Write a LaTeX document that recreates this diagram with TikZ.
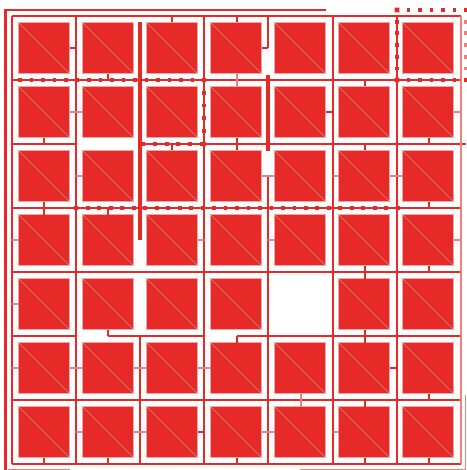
\documentclass[tikz,border=0pt]{standalone}
\definecolor{rd}{RGB}{229,42,39}
\definecolor{pk}{RGB}{240,128,126}
\definecolor{sqb}{RGB}{243,165,165}
\definecolor{dg}{RGB}{243,130,122}
\begin{document}
\begin{tikzpicture}[x=1pt,y=-1pt,
 wall/.style={draw=rd,line width=1.2pt},
 lite/.style={draw=pk,line width=1.1pt},
 boldwall/.style={draw=rd,line width=3.2pt},
 rimwall/.style={draw=rd,line width=2.6pt},
 sq/.style={rectangle,minimum size=51pt,inner sep=0pt,fill=rd,draw=sqb,line width=0.8pt,
   path picture={\draw[dg,line width=0.5pt] (path picture bounding box.north west) -- (path picture bounding box.south east);}}]
\useasboundingbox (0,0) rectangle (466,470);
% outer rim
\draw[rimwall] (4.5,10) -- (326,10);
\draw[rimwall] (5.5,9) -- (5.5,470);
% faint edges
\draw[lite,line width=0.8pt] (8,469) -- (70,469) (300,469) -- (466,469) (465,395) -- (465,470);
% walls horizontal
\draw[wall] (12,16) -- (461,16) (12,80) -- (461,80)
  (12,144) -- (76,144) (140,144) -- (466,144)
  (12,208) -- (461,208) (12,272) -- (461,272)
  (12,336) -- (76,336) (108,336) -- (204,336) (237,336) -- (461,336)
  (12,400) -- (461,400) (12,464) -- (461,464);
% walls vertical
\draw[wall] (12,16) -- (12,464) (76,16) -- (76,464) (140,336) -- (140,464)
  (204,16) -- (204,464) (268,16) -- (268,48) (268,176) -- (268,464)
  (333,16) -- (333,464) (397,16) -- (397,464);
\draw[lite] (461,16) -- (461,464);
% bold lines
\draw[boldwall] (140,22) -- (140,240) (268,75) -- (268,151);
\draw[rimwall] (76,272) rectangle (204,400);
% squares
\foreach \c in {0,...,6}{\foreach \r in {0,...,6}{%
  \pgfmathtruncatemacro\skipq{(\c==4)&&(\r==4)}%
  \ifnum\skipq=0 \node[sq] (s-\c-\r) at ({44+64*\c},{48+64*\r}) {};\fi}}
% dark stubs
\draw[wall] (70,48) -- (76,48) (108,74) -- (108,80) (172,16) -- (172,22) (237,16) -- (237,22)
  (262,48) -- (268,48) (44,138) -- (44,144) (326,112) -- (333,112) (365,80) -- (365,86)
  (429,138) -- (429,144) (237,138) -- (237,144) (172,144) -- (172,150) (237,144) -- (237,150)
  (365,144) -- (365,150) (429,202) -- (429,208) (44,202) -- (44,215) (108,208) -- (108,215)
  (365,266) -- (365,279) (429,266) -- (429,272) (108,330) -- (108,336) (237,336) -- (237,343)
  (390,368) -- (397,368) (429,394) -- (429,400) (365,400) -- (365,407) (198,432) -- (204,432)
  (44,458) -- (44,464) (108,458) -- (108,464) (237,458) -- (237,464) (365,458) -- (365,464)
  (429,458) -- (429,464) (134,368) -- (140,368);
\draw[boldwall,line width=2.6pt] (365,330) -- (365,343);
% light stubs
\draw[lite] (237,74) -- (237,86) (70,112) -- (83,112) (454,112) -- (461,112) (76,176) -- (83,176)
  (262,176) -- (275,176) (333,176) -- (339,176) (390,176) -- (403,176) (12,240) -- (19,240)
  (198,240) -- (204,240) (268,240) -- (275,240) (454,240) -- (461,240) (12,304) -- (19,304)
  (12,368) -- (19,368) (70,368) -- (83,368) (134,368) -- (147,368) (198,368) -- (211,368)
  (301,394) -- (301,407) (76,432) -- (83,432) (134,432) -- (147,432) (262,432) -- (275,432)
  (333,432) -- (339,432);
% dotted runs
\foreach \k in {0,...,16} \fill[rd] ({20+11.5*\k-1.9},78.1) rectangle ++(3.8,3.8);
\foreach \k in {0,...,5} \fill[rd] (202.1,{80+12.8*\k-1.9}) rectangle ++(3.8,3.8);
\foreach \k in {0,...,5} \fill[rd] ({143.3+11.67*\k-1.9},142.1) rectangle ++(3.8,3.8);
\foreach \k in {0,...,28} \fill[rd] ({76.3+11.48*\k-1.9},206.1) rectangle ++(3.8,3.8);
\foreach \k in {0,...,6} \fill[rd] ({397+11.5*\k-1.9},8.1) rectangle ++(3.8,3.8);
\foreach \k in {0,...,6} \fill[rd] (395.1,{10+11.7*\k-1.9}) rectangle ++(3.8,3.8);
\foreach \k in {0,...,6} \fill[rd] ({397+11.5*\k-1.9},78.1) rectangle ++(3.8,3.8);
\foreach \k in {1,...,5} \fill[pk] (464.1,{10+11.7*\k-1.9}) rectangle ++(3.8,3.8);
\fill[rd] (394.6,7.6) rectangle ++(4.8,4.8) (394.6,77.6) rectangle ++(4.8,4.8);
\end{tikzpicture}
\end{document}
